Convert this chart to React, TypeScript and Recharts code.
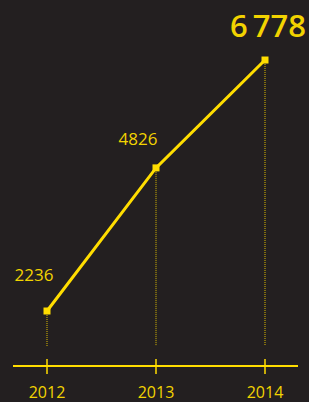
import { LineChart, Line, XAxis, YAxis, ReferenceLine, LabelList } from "recharts";

const years = ["2012", "2013", "2014"];
const totals = [2236, 4826, 6778];
// value range of the plot area, and where the dotted guides stop
const valueDomain = [1241, 7502];
const guideFloor = 1603;

const data = years.map((year, i) => ({ year, total: totals[i] }));

const YELLOW = "#ffdd00";
const TEXT = "#f2d300";
const BG = "#231f20";
const FONT = "'Open Sans', 'Noto Sans', sans-serif";

// label placement relative to each point
const labelOffsets = [
  { dx: -13, dy: -30, size: 17, weight: 400 },
  { dx: -18, dy: -23, size: 17, weight: 400 },
  { dx: 3, dy: -23, size: 31, weight: 600 },
];

function formatValue(v: number, i: number) {
  if (i === totals.length - 1) {
    const s = String(v);
    return s.slice(0, s.length - 3) + "\u2009" + s.slice(-3);
  }
  return String(v);
}

function ValueLabel(props: any) {
  const { x, y, value, index } = props;
  const o = labelOffsets[index];
  if (!o) return null;
  return (
    <text
      x={x + o.dx}
      y={y + o.dy}
      textAnchor="middle"
      fill={TEXT}
      fontSize={o.size}
      fontWeight={o.weight}
      fontFamily={FONT}
    >
      {formatValue(value, index)}
    </text>
  );
}

function YearTick(props: any) {
  const { x, y, payload } = props;
  return (
    <g>
      <line x1={x} x2={x} y1={y - 7} y2={y + 8} stroke={YELLOW} strokeWidth={1.5} />
      <text x={x} y={y + 32} textAnchor="middle" fill={TEXT} fontSize={16} fontFamily={FONT}>
        {payload.value}
      </text>
    </g>
  );
}

function SquareDot(props: any) {
  const { cx, cy, index } = props;
  return <rect key={index} x={cx - 3.5} y={cy - 3.5} width={7} height={7} fill={YELLOW} />;
}

export default function App() {
  return (
    <div
      style={{
        position: "absolute",
        top: 0,
        left: 0,
        width: 309,
        height: 402,
        background: BG,
        overflow: "hidden",
      }}
    >
      <LineChart
        width={309}
        height={402}
        data={data}
        margin={{ top: 20, right: 11, bottom: 0, left: 13 }}
      >
        <XAxis
          dataKey="year"
          height={36}
          padding={{ left: 34, right: 33 }}
          axisLine={{ stroke: YELLOW, strokeWidth: 2 }}
          tickLine={false}
          tickSize={0}
          tickMargin={0}
          tick={<YearTick />}
          interval={0}
        />
        <YAxis hide domain={valueDomain} type="number" allowDataOverflow />
        {data.map((d) => (
          <ReferenceLine
            key={d.year}
            segment={[
              { x: d.year, y: d.total },
              { x: d.year, y: guideFloor },
            ]}
            stroke="#dcbd00"
            strokeWidth={1}
            strokeDasharray="1 1"
          />
        ))}
        <Line
          dataKey="total"
          type="linear"
          stroke={YELLOW}
          strokeWidth={3}
          dot={SquareDot}
          activeDot={false}
          isAnimationActive={false}
        >
          <LabelList dataKey="total" content={ValueLabel} />
        </Line>
      </LineChart>
    </div>
  );
}
